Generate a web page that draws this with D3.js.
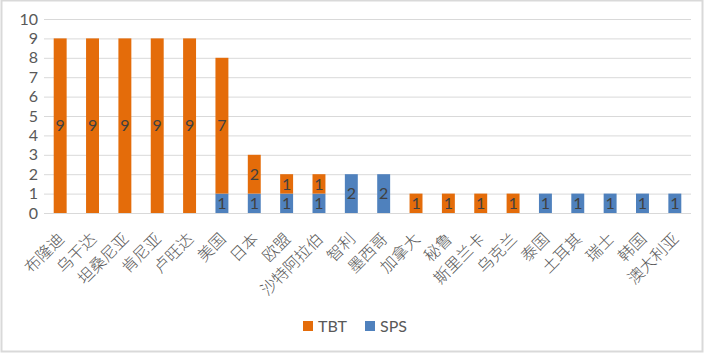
<!DOCTYPE html>
<html><head><meta charset="utf-8">
<script src="https://cdn.jsdelivr.net/npm/d3@7"></script>
<style>body{margin:0;background:#fff}svg{display:block}</style>
</head><body><svg id="c" width="705" height="356"></svg>
<script>
const categories=["布隆迪","乌干达","坦桑尼亚","肯尼亚","卢旺达","美国","日本","欧盟","沙特阿拉伯","智利","墨西哥","加拿大","秘鲁","斯里兰卡","乌克兰","泰国","土耳其","瑞士","韩国","澳大利亚"];
const tbt=[9,9,9,9,9,7,2,1,1,0,0,1,1,1,1,0,0,0,0,0];
const sps=[0,0,0,0,0,1,1,1,1,2,2,0,0,0,0,1,1,1,1,1];
const yTicks=[0,1,2,3,4,5,6,7,8,9,10];
const seriesNames=["TBT","SPS"];
const colors={TBT:"#E46C0A",SPS:"#4F81BD"};

const svg=d3.select("#c");
svg.append("rect").attr("x",1.5).attr("y",0.5).attr("width",701).attr("height",351).attr("fill","#fff").attr("stroke","#D9D9D9").attr("stroke-width",2);
const x=d3.scaleBand().domain(categories).range([44,691]).paddingInner(0.6).paddingOuter(0.3);
const y=d3.scaleLinear().domain([0,10]).range([213,19]);
const font="Lato,'Noto Sans',sans-serif";
const cjk="'Noto Sans CJK SC',sans-serif";

svg.append("g").selectAll("line").data(yTicks).join("line")
 .attr("x1",44).attr("x2",691).attr("y1",d=>y(d)+0.5).attr("y2",d=>y(d)+0.5)
 .attr("stroke","#D9D9D9").attr("stroke-width",1);
svg.append("g").selectAll("text").data(yTicks).join("text")
 .attr("x",38).attr("y",d=>y(d)).attr("dy","0.35em").attr("text-anchor","end")
 .attr("font-family",font).attr("font-size",16).attr("fill","#595959").text(d=>d);

const data=categories.map((c,i)=>({c,SPS:sps[i],TBT:tbt[i]}));
const stack=d3.stack().keys(["SPS","TBT"])(data);
stack.forEach(s=>{
 const g=svg.append("g");
 g.selectAll("rect").data(s).join("rect")
  .attr("x",d=>x(d.data.c)).attr("width",x.bandwidth())
  .attr("y",d=>y(d[1])).attr("height",d=>y(d[0])-y(d[1]))
  .attr("fill",colors[s.key]);
 g.selectAll("text").data(s.filter(d=>d[1]-d[0]>0)).join("text")
  .attr("x",d=>x(d.data.c)+x.bandwidth()/2).attr("y",d=>(y(d[0])+y(d[1]))/2)
  .attr("dy","0.36em").attr("text-anchor","middle")
  .attr("font-family",font).attr("font-size",16).attr("fill","#404040")
  .text(d=>d[1]-d[0]);
});

svg.append("g").selectAll("text").data(categories).join("text")
 .attr("transform",d=>`translate(${x(d)+x.bandwidth()/2+5},${240}) rotate(-45)`)
 .attr("text-anchor","end")
 .attr("font-family",cjk).attr("font-weight",300).attr("font-size",16).attr("fill","#595959").text(d=>d);

const leg=svg.append("g");
const lx={TBT:303,SPS:365};
seriesNames.forEach(n=>{
 leg.append("rect").attr("x",lx[n]).attr("y",321).attr("width",10).attr("height",10).attr("fill",colors[n]);
 leg.append("text").attr("x",lx[n]+15).attr("y",326).attr("dy","0.35em")
  .attr("font-family",font).attr("font-size",16).attr("fill","#595959").text(n);
});
</script></body></html>
